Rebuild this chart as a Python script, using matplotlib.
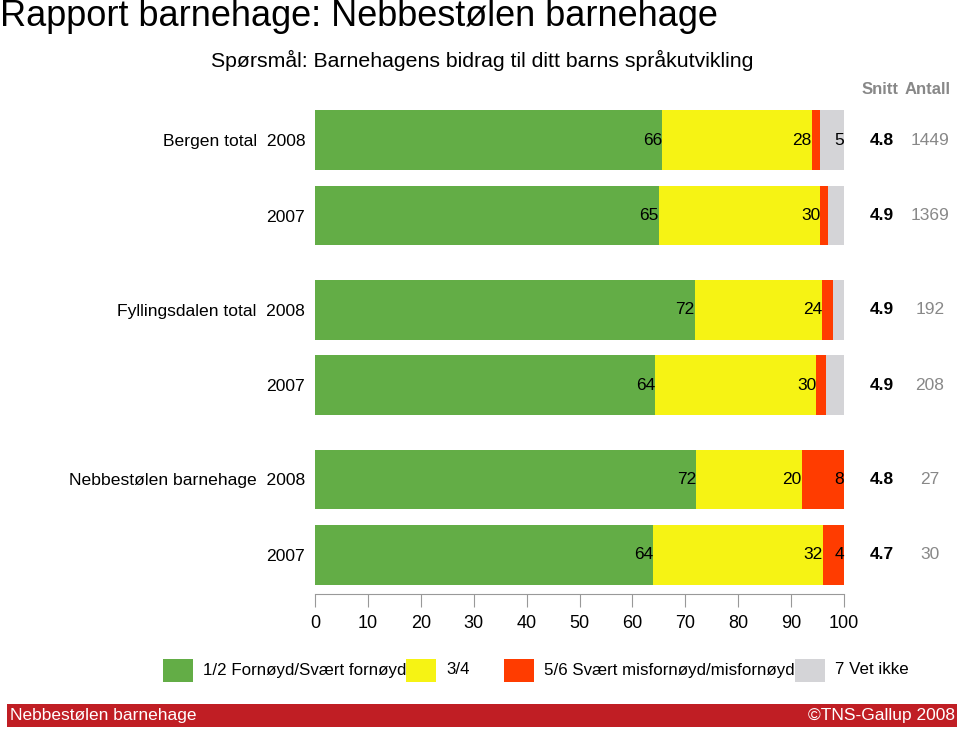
import matplotlib
matplotlib.use("Agg")
import matplotlib.pyplot as plt
from matplotlib.patches import Rectangle
from matplotlib.transforms import blended_transform_factory

plt.rcParams['font.family'] = ['Liberation Sans', 'DejaVu Sans']

# data
rows = ['Bergen total  2008', '2007', 'Fyllingsdalen total  2008', '2007',
        'Nebbestølen barnehage  2008', '2007']
green = [65.6, 65.0, 71.8, 64.3, 72.0, 63.9]
yellow = [28.3, 30.5, 24.1, 30.5, 20.0, 32.1]
red = [1.5, 1.5, 2.1, 1.8, 8.0, 4.0]
grey = [4.6, 3.0, 2.0, 3.4, 0.0, 0.0]
snitt = ['4.8', '4.9', '4.9', '4.9', '4.8', '4.7']
antall = ['1449', '1369', '192', '208', '27', '30']
series_names = ['1/2 Fornøyd/Svært fornøyd', '3/4', '5/6 Svært misfornøyd/misfornøyd', '7 Vet ikke']
colors = ['#63AD46', '#F6F314', '#FF3C00', '#D4D4D7']
ypos = [0, 1, 2.25, 3.25, 4.5, 5.5]

W, H = 960, 731
fig = plt.figure(figsize=(9.6, 7.31), dpi=100)
ax = fig.add_axes([315 / W, 1 - 594 / H, 529 / W, (594 - 100) / H])

left = [0.0] * len(rows)
for vals, c in zip([green, yellow, red, grey], colors):
    ax.barh(ypos, vals, left=left, height=0.79, color=c, linewidth=0)
    for y, l, v in zip(ypos, left, vals):
        if v >= 3.5:
            ax.text(l + v, y, f'{v:.0f}', ha='right', va='center', fontsize=12.5)
    left = [a + b for a, b in zip(left, vals)]

ax.set_xlim(0, 100)
ax.set_ylim(6.02, -0.533)
ax.set_xticks(range(0, 101, 10))
ax.set_yticks(ypos)
ax.set_yticklabels(rows, fontsize=12.6)
ax.tick_params(axis='y', length=0, pad=7)
ax.tick_params(axis='x', length=9, color='#999999', labelsize=13, pad=6)
for s in ['top', 'right', 'left']:
    ax.spines[s].set_visible(False)
ax.spines['bottom'].set_color('#999999')

# Snitt / Antall columns
tr = blended_transform_factory(fig.transFigure, ax.transData)
for y, s, a in zip(ypos, snitt, antall):
    ax.text(882 / W, y, s, transform=tr, ha='center', va='center',
            fontsize=12.5, fontweight='bold', clip_on=False)
    ax.text(930 / W, y, a, transform=tr, ha='center', va='center',
            fontsize=12.5, color='#888888', clip_on=False)
fig.text(880 / W, 1 - 89 / H, 'Snitt', ha='center', va='center',
         fontsize=12, fontweight='bold', color='#888888')
fig.text(928 / W, 1 - 89 / H, 'Antall', ha='center', va='center',
         fontsize=12, fontweight='bold', color='#888888')

# titles
fig.text(0 / W, 1 - 17 / H, 'Rapport barnehage: Nebbestølen barnehage',
         ha='left', va='center', fontsize=26)
fig.text(482 / W, 1 - 60 / H, 'Spørsmål: Barnehagens bidrag til ditt barns språkutvikling',
         ha='center', va='center', fontsize=15.3)

# legend
leg_x = [163, 406, 504, 795]
for x, c, name in zip(leg_x, colors, series_names):
    fig.patches.append(Rectangle((x / W, 1 - 682 / H), 30 / W, 23 / H,
                                 transform=fig.transFigure, color=c, linewidth=0))
    fig.text((x + 40) / W, 1 - 670 / H, name, ha='left', va='center', fontsize=12.2)

# footer
fig.patches.append(Rectangle((7 / W, 1 - 727 / H), 950 / W, 23 / H,
                             transform=fig.transFigure, color='#C01E24', linewidth=0))
fig.text(10 / W, 1 - 715.5 / H, 'Nebbestølen barnehage', ha='left', va='center',
         fontsize=12.5, color='white')
fig.text(955 / W, 1 - 715.5 / H, '©TNS-Gallup 2008', ha='right', va='center',
         fontsize=12.5, color='white')

fig.savefig('out.png', dpi=100)
